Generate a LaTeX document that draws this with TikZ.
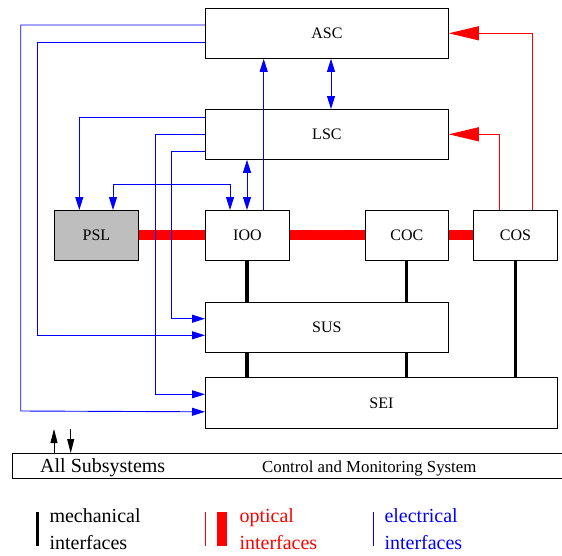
\documentclass[tikz,border=0pt]{standalone}
\usepackage{fontspec}
\setmainfont{Liberation Serif}
\usetikzlibrary{arrows.meta,calc}
\definecolor{pslgray}{RGB}{190,190,190}
\begin{document}
\begin{tikzpicture}[x=1pt,y=-1pt,
  box/.style={draw=black, line width=0.8pt, anchor=north west, inner sep=0pt,
    font=\fontsize{16}{19}\selectfont},
  elec/.style={draw=blue, line width=0.9pt},
  etip/.style={-{Triangle[length=13pt,width=8pt]}},
  etips/.style={{Triangle[length=13pt,width=8pt]}-{Triangle[length=13pt,width=8pt]}},
  opt/.style={draw=red, line width=1pt, -{Triangle[length=30pt,width=14pt]}},
  optbar/.style={draw=red, line width=10pt},
  mech/.style={draw=black, line width=3.5pt},
  ctrl/.style={draw=black, line width=0.8pt, -{Triangle[length=14pt,width=7pt]}},
  legtext/.style={anchor=base west, inner sep=0pt, font=\fontsize{20}{24}\selectfont}
]
\useasboundingbox (0,0) rectangle (562,555);

% boxes
\node[box, minimum width=243pt, minimum height=50pt] (ASC) at (205,8) {ASC};
\node[box, minimum width=243pt, minimum height=50pt] (LSC) at (205,109) {LSC};
\node[box, minimum width=84pt, minimum height=50pt, fill=pslgray] (PSL) at (54,210) {PSL};
\node[box, minimum width=84pt, minimum height=50pt] (IOO) at (205,210) {IOO};
\node[box, minimum width=83pt, minimum height=50pt] (COC) at (365,210) {COC};
\node[box, minimum width=84pt, minimum height=50pt] (COS) at (473,210) {COS};
\node[box, minimum width=243pt, minimum height=50pt] (SUS) at (205,302) {SUS};
\node[box, minimum width=352pt, minimum height=51pt] (SEI) at (205,377) {SEI};

% optical thick links
\draw[optbar] (PSL.east) -- (IOO.west);
\draw[optbar] (IOO.east) -- (COC.west);
\draw[optbar] (COC.east) -- (COS.west);

% mechanical links
\draw[mech] ($(IOO.south west)+(42,0)$) -- ($(SUS.north west)+(42,0)$);
\draw[mech] ($(SUS.south west)+(42,0)$) -- ($(SEI.north west)+(42,0)$);
\draw[mech] ($(COC.south west)+(41.7,0)$) -- ($(SUS.north west)+(201.7,0)$);
\draw[mech] ($(SUS.south west)+(201.7,0)$) -- ($(SEI.north west)+(201.7,0)$);
\draw[mech] ($(COS.south west)+(42.7,0)$) -- ($(SEI.north west)+(310.7,0)$);

% electrical links
\draw[elec,etip] ($(ASC.north west)+(0,17)$) -| (20.7,411) -- ($(SEI.south west)+(0,-17)$);
\draw[elec,etip] ($(ASC.north west)+(0,34)$) -| (37.3,335.3) -- ($(SUS.north west)+(0,33.3)$);
\draw[elec,etip] ($(LSC.north west)+(0,8.3)$) -| ($(PSL.north west)+(25.3,0)$);
\draw[elec,etip] ($(LSC.north west)+(0,25.3)$) -| (155,394.3) -- ($(SEI.north west)+(0,17.3)$);
\draw[elec,etip] ($(LSC.north west)+(0,42)$) -| (171.7,318.7) -- ($(SUS.north west)+(0,16.7)$);
\draw[elec,etips] ($(PSL.north west)+(59,0)$) -- ++(0,-25.7) -| ($(IOO.north west)+(25,0)$);
\draw[elec,etips] ($(IOO.north west)+(42,0)$) -- ($(LSC.south west)+(42,0)$);
\draw[elec,etip] ($(IOO.north west)+(58.7,0)$) -- ($(ASC.south west)+(58.7,0)$);
\draw[elec,etips] ($(ASC.south west)+(126,0)$) -- ($(LSC.north west)+(126,0)$);

% optical control links
\draw[opt] ($(COS.north west)+(59.3,0)$) |- ($(ASC.north east)+(0,25.3)$);
\draw[opt] ($(COS.north west)+(26,0)$) |- ($(LSC.north east)+(0,25.3)$);

% control and monitoring system bar
\node[anchor=north west, inner sep=0pt, minimum width=560pt, minimum height=25pt] (CMS) at (12,453) {};
\draw[line width=0.8pt] (CMS.north east) -- (CMS.north west) -- (CMS.south west) -- (CMS.south east);
\node[anchor=base west, inner sep=0pt, font=\fontsize{20}{24}\selectfont] (allsub) at (40,472) {All Subsystems};
\node[anchor=base west, inner sep=0pt, font=\fontsize{16.8}{20}\selectfont] (cmstext) at (262,472) {Control and Monitoring System};
\draw[ctrl] ($(CMS.north west)+(42,0)$) -- ++(0,-24);
\draw[ctrl] ($(CMS.north west)+(58.7,-24)$) -- ($(CMS.north west)+(58.7,0)$);

% legend
\draw[line width=3.3pt] (37.7,512) -- (37.7,546);
\node[legtext] (m1) at (49.3,522.5) {mechanical};
\node[legtext] (m2) at (49.3,549) {interfaces};
\draw[red, line width=1pt] (205,512) -- (205,546);
\draw[red, line width=10pt] (222.3,512) -- (222.3,546);
\node[legtext, text=red] (o1) at (239.3,522.5) {optical};
\node[legtext, text=red] (o2) at (239.3,549) {interfaces};
\draw[blue, line width=0.9pt] (373.3,512) -- (373.3,546);
\node[legtext, text=blue] (e1) at (384.3,522.5) {electrical};
\node[legtext, text=blue] (e2) at (384.3,549) {interfaces};
\end{tikzpicture}
\end{document}
